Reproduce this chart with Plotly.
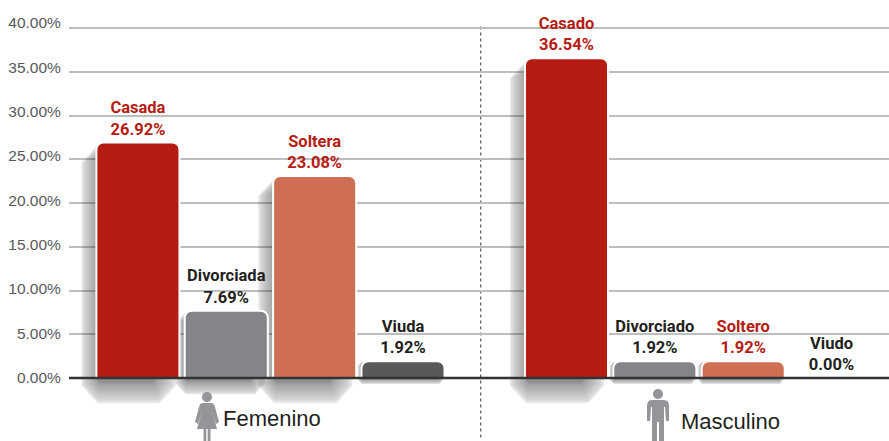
import plotly.graph_objects as go

# Data
categories = ["Casada", "Divorciada", "Soltera", "Viuda", "Casado", "Divorciado", "Soltero", "Viudo"]
groups = ["Femenino", "Femenino", "Femenino", "Femenino", "Masculino", "Masculino", "Masculino", "Masculino"]
values = [26.92, 7.69, 23.08, 1.92, 36.54, 1.92, 1.92, 0.00]
bar_colors = ["#B51C14", "#848589", "#CE6F53", "#58595B", "#B51C14", "#848589", "#CE6F53", "#58595B"]
label_colors = ["#B51C14", "#231F20", "#B51C14", "#231F20", "#B51C14", "#231F20", "#B51C14", "#231F20"]
y_ticks = [0, 5, 10, 15, 20, 25, 30, 35, 40]
y_tick_labels = [f"{v:.2f}%" for v in y_ticks]

W, H = 889, 441
GROUP_GAP = 0.85
LABEL_PAD = 0.42
x_pos = [i + (GROUP_GAP if g == "Masculino" else 0) for i, g in enumerate(groups)]
BAR_W = 0.94
shapes = []

# soft drop shadows: concentric translucent octagons approximating a blur
STEPS = 20
for x, v in zip(x_pos, values):
    if v <= 0:
        continue
    k = min(1.0, 0.1 + v / 14)
    for s in range(STEPS):
        t = s / (STEPS - 1)
        f = t * t * (3 - 2 * t)
        x0 = x - BAR_W / 2 - k * (0.17 - 0.19 * f)
        x1 = x + BAR_W / 2 - k * (0.04 + 0.24 * f)
        y0 = -k * (2.9 - 2.4 * f)
        y1 = max(v - 0.3 * k - 1.2 * k * f, 0.1)
        cx = k * (0.02 + 0.16 * (1 - f))      # corner cut, widest on the faint outer layers
        cy = min(k * (0.2 + 1.8 * (1 - f)), (y1 - y0) / 2)
        shapes.append(dict(
            type="path", layer="between", xref="x", yref="y",
            path=(f"M{x0+cx},{y0} L{x1-cx},{y0} L{x1},{y0+cy} L{x1},{y1-cy} L{x1-cx},{y1} "
                  f"L{x0+cx},{y1} L{x0},{y1-cy} L{x0},{y0+cy} Z"),
            fillcolor="rgba(40,40,40,0.03)", line=dict(width=0),
        ))

# dotted divider between the two groups
divider = (x_pos[3] + x_pos[4]) / 2 - 0.045
shapes.append(dict(type="line", layer="between", xref="x", yref="paper",
                   x0=divider, x1=divider, y0=0.008, y1=0.94,
                   line=dict(color="#333333", width=1, dash="dot")))

# baseline drawn over the bars
shapes.append(dict(type="line", layer="above", xref="paper", yref="y",
                   x0=0, x1=1, y0=0, y1=0, line=dict(color="#333333", width=2.5)))

# person icons (pixel offsets, y pointing up from the anchor)
def icon(cx_px, cy_px, parts, color="#939598"):
    return dict(type="path", layer="above", xref="paper", yref="paper",
                xsizemode="pixel", ysizemode="pixel",
                xanchor=(cx_px - 69) / (W - 69), yanchor=1 - cy_px / H,
                path=parts, fillcolor=color, line=dict(width=0))

def circle(cx, cy, r):
    k = 0.5523 * r
    return (f"M{cx-r},{cy} C{cx-r},{cy+k} {cx-k},{cy+r} {cx},{cy+r} "
            f"C{cx+k},{cy+r} {cx+r},{cy+k} {cx+r},{cy} "
            f"C{cx+r},{cy-k} {cx+k},{cy-r} {cx},{cy-r} "
            f"C{cx-k},{cy-r} {cx-r},{cy-k} {cx-r},{cy} Z")

woman = (circle(0, -5, 5) +
         " M-4,-11 L4,-11 Q7,-11 8,-15 L12,-30 L9,-32 L5,-19 L10,-37 L3.5,-37 L3.5,-50 L0.7,-50 L0.7,-37"
         " L-0.7,-37 L-0.7,-50 L-3.5,-50 L-3.5,-37 L-10,-37 L-5,-19 L-9,-32 L-12,-30 L-8,-15 Q-7,-11 -4,-11 Z")
man = (circle(0, -5, 5) +
       " M-6,-11 L6,-11 Q11,-11 11,-17 L11,-32 L8,-32 L7,-18 L6,-18 L6,-52 L1,-52 L1,-33 L-1,-33 L-1,-52"
       " L-6,-52 L-6,-18 L-7,-18 L-8,-32 L-11,-32 L-11,-17 Q-11,-11 -6,-11 Z")
shapes.append(icon(207, 392, woman))
shapes.append(icon(658, 389, man))

fig = go.Figure()
fig.add_trace(go.Bar(
    x=x_pos, y=values, width=BAR_W,
    marker=dict(color=bar_colors, line=dict(color="white", width=2)),
    hoverinfo="skip",
))
fig.add_trace(go.Scatter(
    x=x_pos, y=[v + LABEL_PAD for v in values], mode="text",
    text=[f"<b>{c}</b><br><b>{v:.2f}%</b>" for c, v in zip(categories, values)],
    textposition="top center",
    textfont=dict(family="Roboto", size=16.5, color=label_colors),
    hoverinfo="skip",
))
# keeps the tick-label axis alive; draws nothing visible
fig.add_trace(go.Scatter(x=x_pos, y=values, yaxis="y2", mode="markers",
                         marker=dict(opacity=0), hoverinfo="skip"))

annotations = [
    dict(text="Femenino", xref="paper", yref="paper", x=(272 - 69) / (W - 69), y=1 - 418 / H,
         xanchor="center", yanchor="middle", showarrow=False,
         font=dict(family="Liberation Sans", size=22, color="#231F20")),
    dict(text="Masculino", xref="paper", yref="paper", x=(730 - 69) / (W - 69), y=1 - 421 / H,
         xanchor="center", yanchor="middle", showarrow=False,
         font=dict(family="Liberation Sans", size=22, color="#231F20")),
]

fig.update_layout(
    width=W, height=H, margin=dict(l=69, r=0, t=0, b=0),
    paper_bgcolor="white", plot_bgcolor="white", showlegend=False,
    barcornerradius=7, shapes=shapes, annotations=annotations,
    font=dict(family="Liberation Sans"),
    xaxis=dict(range=[-0.78, 8.5], visible=False, fixedrange=True),
    yaxis=dict(range=[-7.2, 43.2], tickmode="array", tickvals=y_ticks, showticklabels=False,
               showgrid=True, gridcolor="#BCBEC0", gridwidth=2,
               zeroline=False, ticks="", showline=False, fixedrange=True),
    yaxis2=dict(range=[-7.17, 42.6], overlaying="y", side="left", anchor="x",
                tickmode="array", tickvals=y_ticks, ticktext=y_tick_labels,
                tickfont=dict(family="Liberation Sans", size=15.5, color="#58595B"),
                showgrid=False, zeroline=False, ticks="outside", ticklen=4,
                tickcolor="white", showline=False, fixedrange=True),
)
fig.write_html("out.html", config={"displayModeBar": False},
               post_script="document.body.style.margin='0';document.body.style.overflow='hidden';")
